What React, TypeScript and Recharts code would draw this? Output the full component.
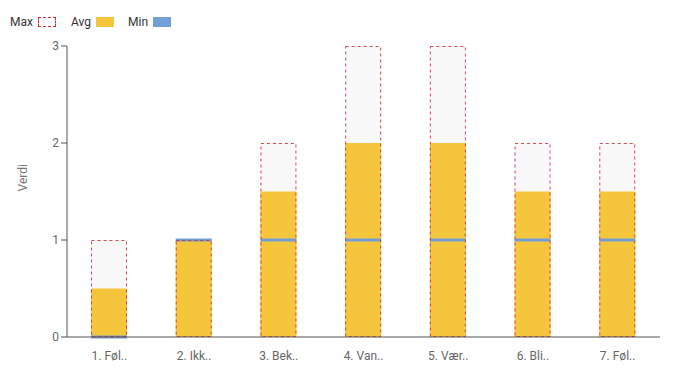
import React from 'react';
import { BarChart, Bar, XAxis, YAxis, Legend } from 'recharts';

const categories = ['1. Føl..', '2. Ikk..', '3. Bek..', '4. Van..', '5. Vær..', '6. Bli..', '7. Føl..'];
const maxValues = [1, 1, 2, 3, 3, 2, 2];
const avgValues = [0.5, 1, 1.5, 2, 2, 1.5, 1.5];
const minValues = [0, 1, 1, 1, 1, 1, 1];
const yTicks = [0, 1, 2, 3];

const MAX_RED = '#d42a35';
const AVG_YELLOW = '#f5c53c';
const MIN_BLUE = '#729fd6';

const data = categories.map((name, i) => ({
  name,
  max: maxValues[i],
  avg: avgValues[i],
  min: minValues[i],
}));

// min is drawn as a thin marker at the value, not as a full bar
const MinMarker = (props: any) => {
  const { x, y, width } = props;
  return <rect x={x} y={y - 1.5} width={width} height={3} fill={MIN_BLUE} />;
};

const MaxOutline = (props: any) => {
  const { x, y, width, height } = props;
  return (
    <rect
      x={x + 0.5}
      y={y + 0.5}
      width={width - 1}
      height={height - 1}
      fill="none"
      stroke={MAX_RED}
      strokeOpacity={0.85}
      strokeDasharray="3 3"
    />
  );
};

const renderLegend = () => (
  <div style={{ display: 'flex', alignItems: 'center', height: 15, fontSize: 12, color: '#333', fontFamily: 'Roboto, sans-serif' }}>
    <span>Max</span>
    <span style={{ display: 'inline-block', width: 16, height: 8, marginLeft: 5, border: `1px dashed ${MAX_RED}` }} />
    <span style={{ marginLeft: 15 }}>Avg</span>
    <span style={{ display: 'inline-block', width: 18, height: 10, marginLeft: 5, background: AVG_YELLOW }} />
    <span style={{ marginLeft: 14 }}>Min</span>
    <span style={{ display: 'inline-block', width: 18, height: 10, marginLeft: 5, background: MIN_BLUE }} />
  </div>
);

export default function App() {
  return (
    <div style={{ position: 'absolute', left: 0, top: 0, fontFamily: 'Roboto, sans-serif' }}>
      <BarChart
        width={682}
        height={376}
        data={data}
        margin={{ top: 31, right: 22, bottom: 9, left: 14 }}
        barSize={36}
        barGap={-36}
      >
        <Legend
          verticalAlign="top"
          content={renderLegend}
          wrapperStyle={{ position: 'absolute', top: 14, left: 10, width: 'auto', height: 15 }}
        />
        <XAxis
          dataKey="name"
          tickLine={false}
          tickMargin={8}
          axisLine={{ stroke: '#555' }}
          tick={{ fill: '#666', fontSize: 12 }}
        />
        <YAxis
          width={53}
          domain={[0, 3]}
          ticks={yTicks}
          axisLine={{ stroke: '#555' }}
          tickLine={{ stroke: '#555' }}
          tick={{ fill: '#666', fontSize: 12 }}
          label={{ value: 'Verdi', angle: -90, position: 'insideLeft', fill: '#777', fontSize: 12, dx: 4 }}
        />
        <Bar dataKey="max" fill="#f8f8f8" isAnimationActive={false} legendType="none" />
        <Bar dataKey="avg" fill={AVG_YELLOW} isAnimationActive={false} />
        <Bar dataKey="min" shape={<MinMarker />} isAnimationActive={false} />
        <Bar dataKey="max" shape={<MaxOutline />} isAnimationActive={false} legendType="none" />
      </BarChart>
    </div>
  );
}
